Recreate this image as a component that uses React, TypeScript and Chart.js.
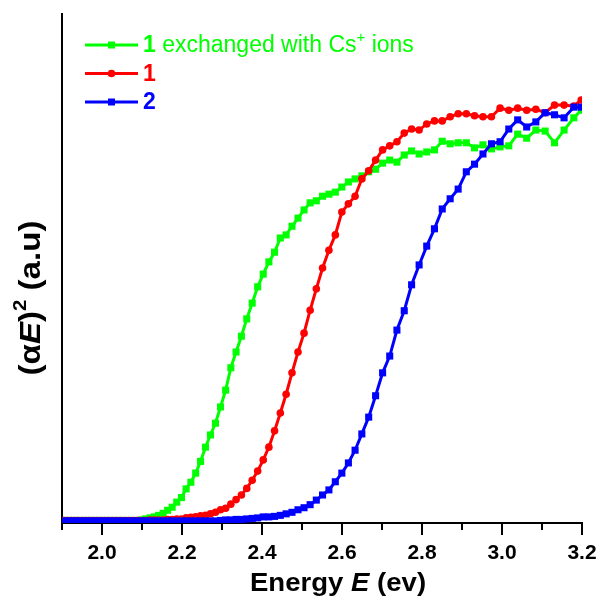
import React, { useEffect, useRef } from "react";
import { Chart, registerables } from "chart.js";

Chart.register(...registerables);

const energies = [
  1.9048, 1.9136, 1.9225, 1.9315, 1.9405, 1.9497, 1.9589, 1.9683, 1.9777, 1.9872,
  1.9968, 2.0065, 2.0163, 2.0261, 2.0361, 2.0462, 2.0564, 2.0667, 2.0771, 2.0875,
  2.0981, 2.1088, 2.1197, 2.1306, 2.1416, 2.1528, 2.1640, 2.1754, 2.1869, 2.1986,
  2.2103, 2.2222, 2.2342, 2.2464, 2.2587, 2.2711, 2.2836, 2.2963, 2.3091, 2.3221,
  2.3352, 2.3485, 2.3619, 2.3755, 2.3892, 2.4031, 2.4172, 2.4314, 2.4458, 2.4603,
  2.4750, 2.4900, 2.5051, 2.5203, 2.5358, 2.5514, 2.5673, 2.5833, 2.5996, 2.6160,
  2.6327, 2.6496, 2.6667, 2.6840, 2.7015, 2.7193, 2.7373, 2.7556, 2.7740, 2.7928,
  2.8118, 2.8311, 2.8506, 2.8704, 2.8904, 2.9108, 2.9314, 2.9524, 2.9736, 2.9952,
  3.0170, 3.0392, 3.0617, 3.0846, 3.1078, 3.1313, 3.1552, 3.1795, 3.1980,
];

const greenValues = [
  0.5, 0.5, 0.5, 0.5, 0.5, 0.5, 0.5, 0.5, 0.5, 0.5,
  0.5, 0.5, 0.5, 0.5, 0.5, 0.5, 0.5, 0.5, 0.5, 0.5,
  0.6, 0.8, 1.0, 1.2, 1.5, 1.9, 2.5, 3.1, 4.1, 5.0,
  6.7, 8.0, 9.8, 12.1, 14.9, 17.3, 19.6, 22.8, 26.1, 30.5,
  33.6, 36.7, 40.1, 43.2, 46.4, 48.9, 51.3, 53.2, 56.0, 56.6,
  58.3, 59.9, 61.5, 62.9, 63.3, 64.2, 64.6, 65.0, 66.0, 67.0,
  67.6, 68.2, 69.0, 69.5, 70.7, 71.3, 70.9, 72.3, 73.1, 72.5,
  72.9, 73.3, 75.0, 74.5, 74.7, 74.7, 73.7, 74.3, 73.5, 73.9,
  74.1, 76.4, 75.6, 77.2, 77.0, 74.7, 77.2, 79.6, 81.1,
];

const redValues = [
  0.5, 0.5, 0.5, 0.5, 0.5, 0.5, 0.5, 0.5, 0.5, 0.5,
  0.5, 0.5, 0.5, 0.5, 0.5, 0.5, 0.5, 0.5, 0.5, 0.5,
  0.5, 0.5, 0.6, 0.6, 0.6, 0.6, 0.7, 0.7, 0.8, 0.8,
  1.0, 1.1, 1.2, 1.4, 1.5, 1.8, 2.1, 2.6, 2.9, 3.7,
  4.6, 5.5, 6.8, 8.4, 10.2, 12.4, 14.9, 18.1, 21.6, 25.3,
  29.5, 33.6, 37.3, 41.8, 46.0, 50.1, 53.6, 56.6, 61.1, 62.7,
  64.2, 67.6, 69.2, 71.3, 73.3, 74.1, 74.9, 76.6, 77.4, 77.2,
  78.4, 79.0, 79.0, 79.8, 80.4, 80.4, 80.0, 79.8, 79.8, 81.5,
  81.1, 81.5, 81.1, 81.3, 80.6, 82.1, 82.1, 81.9, 83.1,
];

const blueValues = [
  0.4, 0.4, 0.4, 0.4, 0.4, 0.4, 0.4, 0.4, 0.4, 0.4,
  0.4, 0.4, 0.4, 0.4, 0.4, 0.4, 0.4, 0.4, 0.4, 0.4,
  0.4, 0.4, 0.4, 0.4, 0.4, 0.4, 0.4, 0.4, 0.4, 0.4,
  0.4, 0.4, 0.4, 0.4, 0.4, 0.4, 0.4, 0.5, 0.6, 0.6,
  0.7, 0.7, 0.8, 0.9, 1.0, 1.2, 1.2, 1.3, 1.5, 1.8,
  2.1, 2.6, 3.0, 3.6, 4.5, 5.5, 6.5, 8.1, 9.8, 11.8,
  14.3, 17.5, 20.8, 25.0, 29.5, 32.8, 37.9, 41.7, 46.8, 50.7,
  54.4, 57.8, 61.7, 63.7, 65.6, 69.0, 70.5, 72.5, 74.5, 74.9,
  77.4, 79.2, 77.8, 78.8, 80.6, 80.2, 79.6, 81.7, 81.7,
];

const seriesNames = ["1 exchanged with Cs^+ ions", "1", "2"];
const seriesColors = ["#00FF00", "#FF0000", "#0000FF"];
const xTickLabels = ["2.0", "2.2", "2.4", "2.6", "2.8", "3.0", "3.2"];
const xTitle = ["Energy ", "E", " (ev)"];
const yTitle = ["(\u03B1", "E", ")", "2", " (a.u)"];

const FONT = "Arial, 'Liberation Sans', Helvetica, sans-serif";

type Run = { text: string; font: string; dy?: number };

function runsWidth(ctx: CanvasRenderingContext2D, runs: Run[]) {
  let w = 0;
  for (const r of runs) {
    ctx.font = r.font;
    w += ctx.measureText(r.text).width;
  }
  return w;
}

function drawRuns(ctx: CanvasRenderingContext2D, runs: Run[], x: number, y: number) {
  let cx = x;
  for (const r of runs) {
    ctx.font = r.font;
    ctx.fillText(r.text, cx, y + (r.dy || 0));
    cx += ctx.measureText(r.text).width;
  }
}

const annotatePlugin = {
  id: "annotate",
  afterDraw(chart: any) {
    const ctx: CanvasRenderingContext2D = chart.ctx;
    const xs = chart.scales.x;
    const area = chart.chartArea;
    ctx.save();

    // x tick marks (major and minor)
    ctx.strokeStyle = "#000";
    ctx.lineWidth = 2;
    for (const t of xs.ticks) {
      const v = Math.round(t.value * 10) / 10;
      const major = xTickLabels.includes(v.toFixed(1));
      const px = Math.round(xs.getPixelForValue(v));
      ctx.beginPath();
      ctx.moveTo(px, area.bottom);
      ctx.lineTo(px, area.bottom + (major ? 12 : 7));
      ctx.stroke();
    }

    // x title
    ctx.fillStyle = "#000";
    ctx.textBaseline = "middle";
    ctx.textAlign = "left";
    const xr: Run[] = [
      { text: xTitle[0], font: `bold 26px ${FONT}` },
      { text: xTitle[1], font: `italic bold 26px ${FONT}` },
      { text: xTitle[2], font: `bold 26px ${FONT}` },
    ];
    const xw = runsWidth(ctx, xr);
    const xStretch = 1.06;
    ctx.save();
    ctx.translate(338, 584);
    ctx.scale(xStretch, 1);
    drawRuns(ctx, xr, -xw / 2, 0);
    ctx.restore();

    // y title
    const yr: Run[] = [
      { text: yTitle[0], font: `bold 29px ${FONT}` },
      { text: yTitle[1], font: `italic bold 29px ${FONT}` },
      { text: yTitle[2], font: `bold 29px ${FONT}` },
      { text: yTitle[3], font: `bold 18px ${FONT}`, dy: -11 },
      { text: yTitle[4], font: `bold 29px ${FONT}` },
    ];
    const yw = runsWidth(ctx, yr);
    ctx.save();
    ctx.translate(32, 298);
    ctx.rotate(-Math.PI / 2);
    ctx.scale(1.14, 1);
    drawRuns(ctx, yr, -yw / 2, 0);
    ctx.restore();

    // legend
    const rowTop = 45;
    const rowGap = 28.5;
    for (let i = 0; i < seriesNames.length; i++) {
      const color = seriesColors[i];
      const y = rowTop + i * rowGap;
      ctx.strokeStyle = color;
      ctx.fillStyle = color;
      ctx.lineWidth = 3;
      ctx.beginPath();
      ctx.moveTo(85, y);
      ctx.lineTo(138, y);
      ctx.stroke();
      if (i === 1) {
        ctx.beginPath();
        ctx.arc(111.5, y, 3.8, 0, Math.PI * 2);
        ctx.fill();
      } else {
        ctx.fillRect(108, y - 3.5, 7, 7);
      }
      const name = seriesNames[i];
      const sp = name.indexOf(" ");
      const first = sp < 0 ? name : name.slice(0, sp);
      const rest = sp < 0 ? "" : name.slice(sp);
      const runs: Run[] = [{ text: first, font: `bold 23px ${FONT}` }];
      if (rest) {
        const parts = rest.split("^");
        runs.push({ text: parts[0], font: `23px ${FONT}` });
        if (parts[1]) {
          runs.push({ text: parts[1].charAt(0), font: `15px ${FONT}`, dy: -8 });
          runs.push({ text: parts[1].slice(1), font: `23px ${FONT}` });
        }
      }
      ctx.textBaseline = "middle";
      drawRuns(ctx, runs, 143, y + 1);
    }
    ctx.restore();
  },
};

export default function App() {
  const canvasRef = useRef<HTMLCanvasElement | null>(null);

  useEffect(() => {
    const canvas = canvasRef.current;
    if (!canvas) return;
    const mk = (vals: number[]) => energies.map((e, i) => ({ x: e, y: vals[i] }));
    const chart = new Chart(canvas, {
      type: "line",
      data: {
        datasets: [
          {
            label: "2",
            data: mk(blueValues),
            borderColor: seriesColors[2],
            backgroundColor: seriesColors[2],
            pointStyle: "rect",
            pointRadius: 5,
            pointBorderWidth: 0,
            borderWidth: 3,
            order: 0,
          },
          {
            label: "1",
            data: mk(redValues),
            borderColor: seriesColors[1],
            backgroundColor: seriesColors[1],
            pointStyle: "circle",
            pointRadius: 3.8,
            pointBorderWidth: 0,
            borderWidth: 3,
            order: 1,
          },
          {
            label: "1 exchanged with Cs+ ions",
            data: mk(greenValues),
            borderColor: seriesColors[0],
            backgroundColor: seriesColors[0],
            pointStyle: "rect",
            pointRadius: 5,
            pointBorderWidth: 0,
            borderWidth: 3,
            order: 2,
          },
        ],
      },
      options: {
        animation: false,
        responsive: false,
        layout: { padding: { top: 14, right: 18, left: 0, bottom: 0 } },
        plugins: { legend: { display: false }, tooltip: { enabled: false } },
        elements: { line: { tension: 0 } },
        scales: {
          x: {
            type: "linear",
            min: 1.9,
            max: 3.2,
            grid: { display: false, drawOnChartArea: false, drawTicks: false },
            border: { display: true, color: "#000", width: 2 },
            ticks: {
              stepSize: 0.1,
              autoSkip: false,
              maxRotation: 0,
              padding: 18,
              color: "#000",
              font: { family: FONT, size: 21, weight: "bold" },
              callback: (v: any) => {
                const s = (Math.round(Number(v) * 10) / 10).toFixed(1);
                return xTickLabels.includes(s) ? s : "";
              },
            },
            afterFit: (s: any) => {
              s.height = 78;
              s.paddingLeft = 0;
              s.paddingRight = 0;
            },
          },
          y: {
            min: 0,
            max: 100,
            grid: { display: false, drawTicks: false },
            border: { display: true, color: "#000", width: 2 },
            ticks: { display: false },
            afterFit: (s: any) => {
              s.width = 62;
              s.paddingTop = 0;
              s.paddingBottom = 0;
            },
          },
        },
      },
      plugins: [annotatePlugin],
    });
    return () => chart.destroy();
  }, []);

  return (
    <div style={{ position: "absolute", left: 0, top: 0, width: 600, height: 601, background: "#fff" }}>
      <canvas ref={canvasRef} width={600} height={601} style={{ width: 600, height: 601 }} />
    </div>
  );
}
